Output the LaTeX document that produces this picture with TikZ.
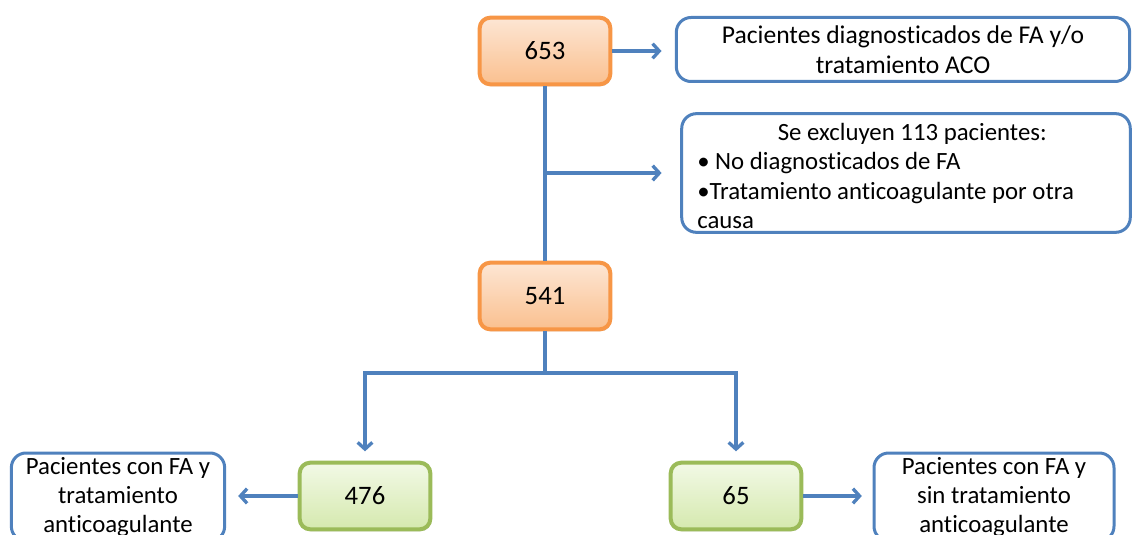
\documentclass[tikz,border=0pt]{standalone}
\usepackage{fontspec}
\setmainfont[Ligatures=NoCommon]{Carlito}
\usetikzlibrary{arrows.meta,shadows}
\definecolor{lineorange}{HTML}{F79646}
\definecolor{lightorange}{HTML}{FDE6D4}
\definecolor{darkorange}{HTML}{FAC08F}
\definecolor{linegreen}{HTML}{9BBB59}
\definecolor{lightgreen}{HTML}{F2F9E6}
\definecolor{darkgreen}{HTML}{D5E9AE}
\definecolor{lineblue}{HTML}{4F81BD}

\begin{document}
\begin{tikzpicture}[x=0.75pt,y=-0.75pt]
    \tikzstyle{every node}+=[inner sep=0pt]
    \tikzstyle{countbox}=[rounded corners=8pt, line width=3pt, minimum width=98pt, minimum height=50pt, font=\fontsize{20}{24}\selectfont, drop shadow={opacity=0.25, shadow xshift=0.8pt, shadow yshift=-1.5pt}]
    \tikzstyle{orangebox}=[countbox, draw=lineorange, top color=lightorange, bottom color=darkorange]
    \tikzstyle{greenbox}=[countbox, draw=linegreen, top color=lightgreen, bottom color=darkgreen]
    \tikzstyle{infobox}=[draw=lineblue, line width=2.25pt, rounded corners=11pt, fill=white]
    \tikzstyle{infotext}=[font=\fontsize{18.6}{22}\selectfont, align=center]
    \tikzstyle{link}=[draw=lineblue, line width=2.5pt]
    \tikzstyle{linkarrow}=[link, -{Straight Barb[length=5pt,width=11pt]}]
    \useasboundingbox (0,0) rectangle (1133,535);
    \clip (0,0) rectangle (1133,535);
    \node [orangebox] (n653) at (545,51) {653};
    \node [orangebox] (n541) at (545,296) {541};
    \node [greenbox] (n476) at (365,496) {476};
    \node [greenbox] (n65) at (736,496) {65};
    \node [infobox, infotext, font=\fontsize{19.2}{22.5}\selectfont, minimum width=340pt, minimum height=48pt] (aco) at (903,49.5) {Pacientes diagnosticados de FA y/o\\tratamiento ACO};
    \node [infobox, minimum width=336.4pt, minimum height=89pt] (exclbox) at (906,173) {};
    \node [infotext, align=left, anchor=west] (excltext) at (697,176) {\makebox[322.5pt][c]{Se excluyen 113 pacientes:}\\• No diagnosticados de FA\\•Tratamiento anticoagulante por otra\\causa};
    \node [infobox, infotext, minimum width=160pt, minimum height=66pt] (leftbox) at (118,497) {Pacientes con FA y\\tratamiento\\anticoagulante};
    \node [infobox, infotext, minimum width=180pt, minimum height=66pt] (rightbox) at (994,497) {Pacientes con FA y\\sin tratamiento\\anticoagulante};
    \coordinate (fork) at (545,373);
    \draw [linkarrow, shorten >=10pt] (n653) -- (n653 -| aco.west);
    \draw [link] (n653) -- (n541);
    \draw [linkarrow, shorten >=14pt] (n653 |- exclbox) -- (exclbox);
    \draw [link] (n541) -- (fork);
    \draw [linkarrow, shorten >=7pt] (fork) -| (n476);
    \draw [linkarrow, shorten >=7pt] (fork) -| (n65);
    \draw [linkarrow, shorten >=9pt] (n476) -- (n476 -| leftbox.east);
    \draw [linkarrow, shorten >=8pt] (n65) -- (n65 -| rightbox.west);
\end{tikzpicture}
\end{document}
